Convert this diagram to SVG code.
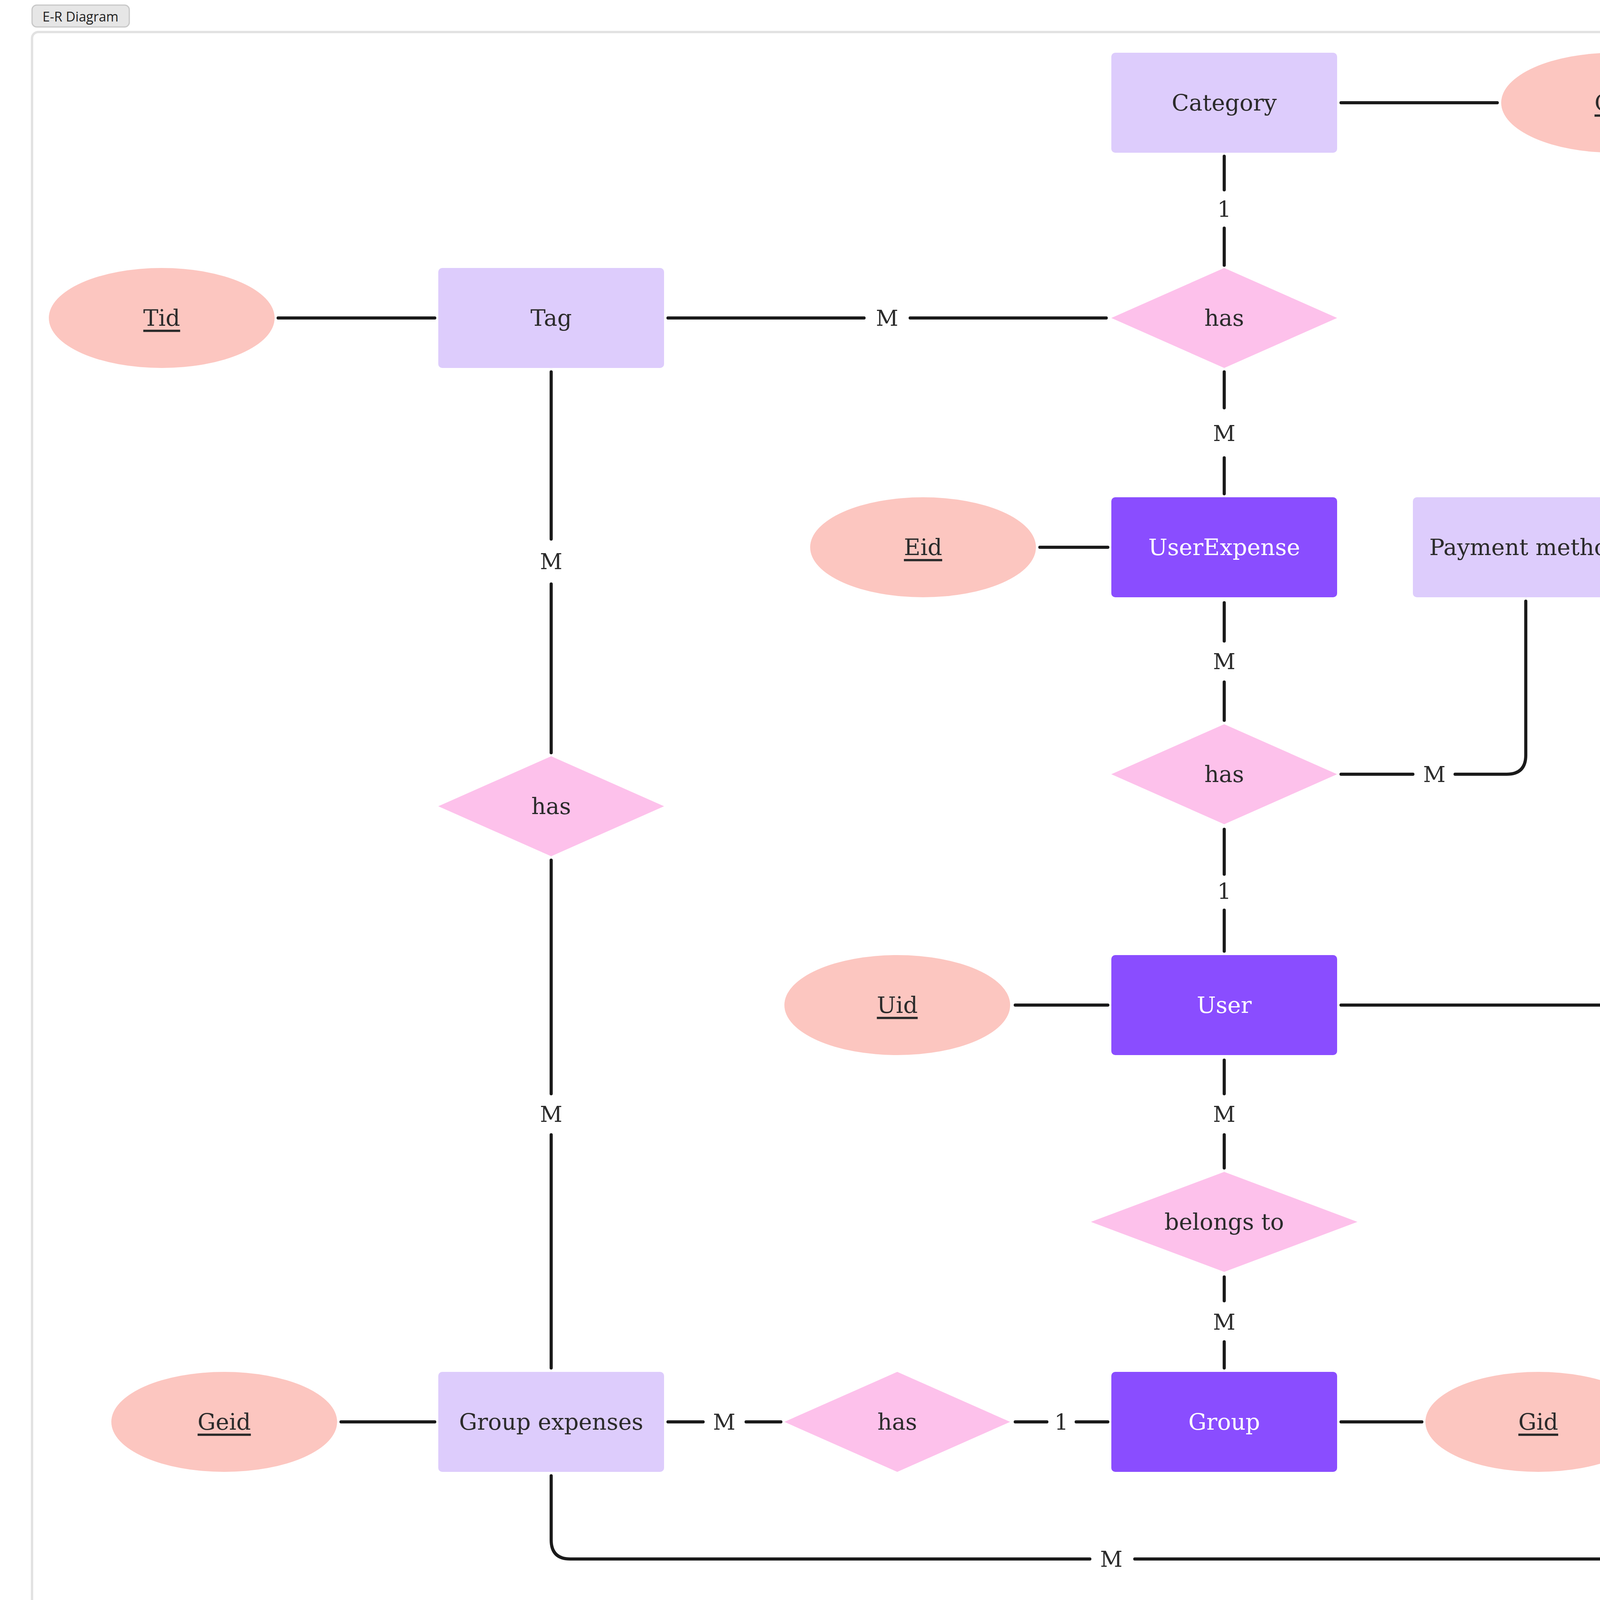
<svg xmlns="http://www.w3.org/2000/svg" width="5120" height="4256" viewBox="0 0 5120 4256">
<style>
.e1{fill:#ddccfc}.e2{fill:#8a4dff}.at{fill:#fcc6c0}.rl{fill:#fdc1eb}
.t{font-family:"DejaVu Serif","Liberation Serif",serif;font-size:58px;fill:#2b2b2b;text-anchor:middle;dominant-baseline:central}
.tw{fill:#ffffff}
.u{text-decoration:underline}
.c{stroke:#1a1a1a;stroke-width:8;fill:none;stroke-linecap:round;stroke-linejoin:round}
.l{font-family:"DejaVu Serif","Liberation Serif",serif;font-size:56px;fill:#2b2b2b;text-anchor:middle;dominant-baseline:central}
</style>
<rect width="5120" height="4256" fill="#ffffff"/>
<rect x="82" y="82" width="4982" height="4112" rx="16" fill="none" stroke="#e2e2e2" stroke-width="6"/>
<rect x="82" y="13" width="249" height="56" rx="12" fill="#e6e6e6" stroke="#c8c8c8" stroke-width="3"/>
<text x="206" y="42" font-family="'Open Sans','DejaVu Sans',sans-serif" font-size="34" fill="#222" text-anchor="middle" dominant-baseline="central">E-R Diagram</text>
<g id="connectors">
<path class="c" d="M3433 263H3833"/>
<path class="c" d="M3134 400V486M3134 584V679"/><text class="l" x="3134" y="535">1</text>
<path class="c" d="M1710 814H2212M2330 814H2832"/><text class="l" x="2271" y="814">M</text>
<path class="c" d="M712 814H1113"/>
<path class="c" d="M3134 952V1044M3134 1172V1264"/><text class="l" x="3134" y="1109" font-size="64">M</text>
<path class="c" d="M2662 1401H2836"/>
<path class="c" d="M4208 1401H4411"/>
<path class="c" d="M3134 1543V1641M3134 1746V1844"/><text class="l" x="3134" y="1693">M</text>
<path class="c" d="M3433 1982H3617M3725 1982H3857Q3906 1982 3906 1933V1539"/><text class="l" x="3672" y="1982">M</text>
<path class="c" d="M3134 2123V2238M3134 2330V2435"/><text class="l" x="3134" y="2281">1</text>
<path class="c" d="M2599 2573H2836"/>
<path class="c" d="M3134 2714V2800M3134 2905V2990"/><text class="l" x="3134" y="2852">M</text>
<path class="c" d="M3134 3269V3330M3134 3435V3502"/><text class="l" x="3134" y="3384">M</text>
<path class="c" d="M3433 3640H3640"/>
<path class="c" d="M2599 3640H2680M2755 3640H2836"/><text class="l" x="2717" y="3640" font-size="64">1</text>
<path class="c" d="M1710 3640H1800M1910 3640H1999"/><text class="l" x="1854" y="3640" font-size="64">M</text>
<path class="c" d="M873 3640H1113"/>
<path class="c" d="M1411 952V1380M1411 1495V1927"/><text class="l" x="1411" y="1437">M</text>
<path class="c" d="M1411 2202V2800M1411 2905V3502"/><text class="l" x="1411" y="2852">M</text>
<path class="c" d="M3433 2573H4611Q4660 2573 4660 2622V3140M4660 3250V3823"/><text class="l" x="4660" y="3193">M</text>
<path class="c" d="M1411 3778V3942Q1411 3991 1460 3991H2790M2905 3991H4280"/><text class="l" x="2845" y="3991">M</text>
</g>
<g id="Category"><rect class="e1" x="2845" y="135" width="578" height="256" rx="10"/><text class="t" x="3134" y="263">Category</text></g>
<g id="Cid"><ellipse class="at" cx="4132" cy="263" rx="289" ry="128"/><text class="t u" x="4132" y="263">Cid</text></g>
<g id="Tag"><rect class="e1" x="1122" y="686" width="578" height="256" rx="10"/><text class="t" x="1411" y="814">Tag</text></g>
<g id="Tid"><ellipse class="at" cx="414" cy="814" rx="289" ry="128"/><text class="t u" x="414" y="814">Tid</text></g>
<g id="has1"><polygon class="rl" points="3134,686 3423,814 3134,942 2845,814"/><text class="t" x="3134" y="814">has</text></g>
<g id="UserExpense"><rect class="e2" x="2845" y="1273" width="578" height="256" rx="10"/><text class="t tw" x="3134" y="1401">UserExpense</text></g>
<g id="Eid"><ellipse class="at" cx="2363" cy="1401" rx="289" ry="128"/><text class="t u" x="2363" y="1401">Eid</text></g>
<g id="PaymentMethod"><rect class="e1" x="3617" y="1273" width="578" height="256" rx="10"/><text class="t" x="3906" y="1401">Payment method</text></g>
<g id="Pid"><ellipse class="at" cx="4710" cy="1401" rx="289" ry="128"/><text class="t u" x="4710" y="1401">Pid</text></g>
<g id="has2"><polygon class="rl" points="3134,1854 3423,1982 3134,2110 2845,1982"/><text class="t" x="3134" y="1982">has</text></g>
<g id="has3"><polygon class="rl" points="1411,1936 1700,2064 1411,2192 1122,2064"/><text class="t" x="1411" y="2064">has</text></g>
<g id="User"><rect class="e2" x="2845" y="2445" width="578" height="256" rx="10"/><text class="t tw" x="3134" y="2573">User</text></g>
<g id="Uid"><ellipse class="at" cx="2297" cy="2573" rx="289" ry="128"/><text class="t u" x="2297" y="2573">Uid</text></g>
<g id="belongsTo"><polygon class="rl" points="3134,3000 3475,3128 3134,3256 2793,3128"/><text class="t" x="3134" y="3128">belongs to</text></g>
<g id="Group"><rect class="e2" x="2845" y="3512" width="578" height="256" rx="10"/><text class="t tw" x="3134" y="3640">Group</text></g>
<g id="Gid"><ellipse class="at" cx="3938" cy="3640" rx="289" ry="128"/><text class="t u" x="3938" y="3640">Gid</text></g>
<g id="has4"><polygon class="rl" points="2297,3512 2586,3640 2297,3768 2008,3640"/><text class="t" x="2297" y="3640">has</text></g>
<g id="GroupExpenses"><rect class="e1" x="1122" y="3512" width="578" height="256" rx="10"/><text class="t" x="1411" y="3640">Group expenses</text></g>
<g id="Geid"><ellipse class="at" cx="574" cy="3640" rx="289" ry="128"/><text class="t u" x="574" y="3640">Geid</text></g>
<g id="splitUsers"><polygon class="rl" points="4660,3830 5031,3991 4660,4152 4289,3991"/><text class="t" x="4660" y="3991">split__users</text></g>
</svg>
